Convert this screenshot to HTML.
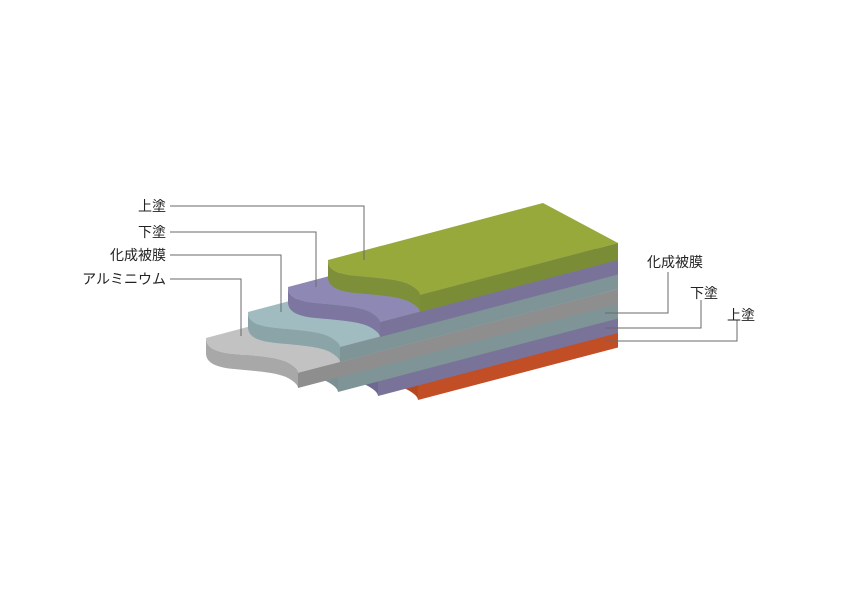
<!DOCTYPE html>
<html><head><meta charset="utf-8"><style>
html,body{margin:0;padding:0;background:#fff;}
svg text{font-family:"Liberation Sans","Noto Sans CJK JP",sans-serif;font-size:14px;fill:#222;}
</style></head><body>
<svg width="850" height="600" viewBox="0 0 850 600" xmlns="http://www.w3.org/2000/svg">
<defs>
</defs>
<!-- orange -->
<path d="M326,350 c 0,8 6,14 28,16 c 20,2 40,3 52,8 c 8,4 12,8 12,11 L618,332.5 L543,292.5 Z" fill="#c9603a"/>
<path d="M418,385 L618,332.5 L618,347.5 L418,400 Z" fill="#c24e26"/>
<path d="M326,350 c 0,8 6,14 28,16 c 20,2 40,3 52,8 c 8,4 12,8 12,11 l0,15 c 0,-3 -4,-7 -12,-11 c -12,-5 -32,-6 -52,-8 c -22,-2 -28,-8 -28,-16 Z" fill="#b5481f"/>
<!-- purple2 -->
<path d="M286,346 c 0,8 6,14 28,16 c 20,2 40,3 52,8 c 8,4 12,8 12,11 L618,318 L543,278 Z" fill="#8e89b4"/>
<path d="M378,381 L618,318 L618,333 L378,396 Z" fill="#7a7399"/>
<path d="M286,346 c 0,8 6,14 28,16 c 20,2 40,3 52,8 c 8,4 12,8 12,11 l0,15 c 0,-3 -4,-7 -12,-11 c -12,-5 -32,-6 -52,-8 c -22,-2 -28,-8 -28,-16 Z" fill="#6f6890"/>
<!-- blue2 -->
<path d="M246,342 c 0,8 6,14 28,16 c 20,2 40,3 52,8 c 8,4 12,8 12,11 L618,303.5 L543,263.5 Z" fill="#9fbbc0"/>
<path d="M338,377 L618,303.5 L618,318.5 L338,392 Z" fill="#7e9497"/>
<path d="M246,342 c 0,8 6,14 28,16 c 20,2 40,3 52,8 c 8,4 12,8 12,11 l0,15 c 0,-3 -4,-7 -12,-11 c -12,-5 -32,-6 -52,-8 c -22,-2 -28,-8 -28,-16 Z" fill="#7a9093"/>
<!-- gray -->
<path d="M206,338 c 0,8 6,14 28,16 c 20,2 40,3 52,8 c 8,4 12,8 12,11 L618,289 L543,249 Z" fill="#c2c2c2"/>
<path d="M298,373 L618,289 L618,304 L298,388 Z" fill="#8e8e8e"/>
<path d="M206,338 c 0,8 6,14 28,16 c 20,2 40,3 52,8 c 8,4 12,8 12,11 l0,15 c 0,-3 -4,-7 -12,-11 c -12,-5 -32,-6 -52,-8 c -22,-2 -28,-8 -28,-16 Z" fill="#a8a8a8"/>
<!-- blue -->
<path d="M248,312 c 0,8 6,14 28,16 c 20,2 40,3 52,8 c 8,4 12,8 12,11 L618,274 L543,234 Z" fill="#a0bcc1"/>
<path d="M340,347 L618,274 L618,289 L340,362 Z" fill="#7e9497"/>
<path d="M248,312 c 0,8 6,14 28,16 c 20,2 40,3 52,8 c 8,4 12,8 12,11 l0,15 c 0,-3 -4,-7 -12,-11 c -12,-5 -32,-6 -52,-8 c -22,-2 -28,-8 -28,-16 Z" fill="#8aa4a8"/>
<!-- purple -->
<path d="M288,287 c 0,8 6,14 28,16 c 20,2 40,3 52,8 c 8,4 12,8 12,11 L618,259.5 L543,219.5 Z" fill="#8e89b4"/>
<path d="M380,322 L618,259.5 L618,274.5 L380,337 Z" fill="#7a7399"/>
<path d="M288,287 c 0,8 6,14 28,16 c 20,2 40,3 52,8 c 8,4 12,8 12,11 l0,15 c 0,-3 -4,-7 -12,-11 c -12,-5 -32,-6 -52,-8 c -22,-2 -28,-8 -28,-16 Z" fill="#7d76a0"/>
<!-- green -->
<path d="M328,260 c 0,8 6,14 28,16 c 20,2 40,3 52,8 c 8,4 12,8 12,11 L618,243 L543,203 Z" fill="#97a93b"/>
<path d="M420,295 L618,243 L618,260 L420,312 Z" fill="#7a8c36"/>
<path d="M328,260 c 0,8 6,14 28,16 c 20,2 40,3 52,8 c 8,4 12,8 12,11 l0,17 c 0,-3 -4,-7 -12,-11 c -12,-5 -32,-6 -52,-8 c -22,-2 -28,-8 -28,-16 Z" fill="#7d8f38"/>

<g stroke="#6a6a6a" stroke-width="1" fill="none">
<polyline points="170,206 364,206 364,260"/>
<polyline points="170,232 316,232 316,287"/>
<polyline points="170,255 281,255 281,312"/>
<polyline points="170,279 241,279 241,336"/>
<polyline points="605,313 668,313 668,272"/>
<polyline points="605,328 701,328 701,300"/>
<polyline points="605,341 737,341 737,320"/>
</g>
<text x="166" y="211" text-anchor="end">上塗</text>
<text x="166" y="237" text-anchor="end">下塗</text>
<text x="166" y="260" text-anchor="end">化成被膜</text>
<text x="166" y="284" text-anchor="end">アルミニウム</text>
<text x="675" y="267" text-anchor="middle">化成被膜</text>
<text x="704" y="298" text-anchor="middle">下塗</text>
<text x="741" y="320" text-anchor="middle">上塗</text>
</svg>
</body></html>
